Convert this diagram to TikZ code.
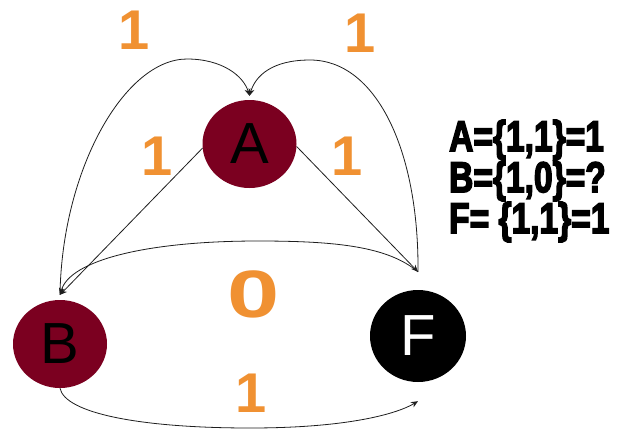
\documentclass[tikz,border=0pt]{standalone}
\usepackage{fontspec}
\setmainfont{Liberation Sans}
\newfontfamily\heavyfont{Liberation Sans Bold}[FakeBold=4]
\usetikzlibrary{shapes.geometric,arrows.meta}
\definecolor{nodered}{RGB}{123,0,32}
\definecolor{lblorange}{RGB}{240,145,50}
\definecolor{edgegray}{RGB}{30,30,30}
\begin{document}
\begin{tikzpicture}[x=1pt,y=-1pt,
  statenode/.style={ellipse,minimum width=94pt,minimum height=88pt,inner sep=0pt,font=\fontsize{58}{58}\selectfont},
  edge/.style={draw=edgegray,line width=0.8pt,-{Stealth[length=7pt,width=6pt]}},
  lbl/.style={text=lblorange,font=\bfseries\fontsize{56}{56}\selectfont,inner sep=0pt},
  eqn/.style={font=\heavyfont\fontsize{43}{43}\selectfont,anchor=west,inner sep=0pt,xscale=0.78}
]
\useasboundingbox (0,0) rectangle (630,432);
\fill[white] (0,0) rectangle (630,432);
% state nodes
\node[statenode,fill=nodered] (A) at (249.5,144) {A};
\node[statenode,fill=nodered] (B) at (60,344) {B};
\node[statenode,fill=black,text=white,minimum width=96pt,minimum height=92pt] (F) at (418,336) {F};
% connector end points
\coordinate (At) at ([yshift=4pt]A.north);
\coordinate (Bt) at ([yshift=5pt]B.north);
\coordinate (Ft) at ([yshift=18pt]F.north);
\coordinate (Fb) at ([yshift=-19pt]F.south);
\coordinate (pkL) at (187,59);
\coordinate (pkR) at (310,60);
\coordinate (pkM) at (258,241);
\coordinate (pkB) at (250,428);
% connectors
\draw[edge] (Bt) .. controls +(2,-126) and +(-62,0) .. (pkL) .. controls +(35,0) and +(-6,-20) .. (At);
\draw[edge] (Ft) .. controls +(1,-122) and +(66,0) .. (pkR) .. controls +(-38,0) and +(6,-20) .. (At);
\draw[edge] (A.185) -- (Bt);
\draw[edge] (A.-3) -- (Ft);
\draw[edge] (Ft) .. controls +(-30,-25) and +(80,0) .. (pkM) .. controls +(-110,0) and +(10,-35) .. (Bt);
\draw[edge] (B.south) .. controls +(5,25) and +(-110,0) .. (pkB) .. controls +(100,0) and +(-20,12) .. (Fb);
% labels
\node[lbl] (l1) at (134,30) {1};
\node[lbl] (l2) at (360,33) {1};
\node[lbl] (l3) at (157,156) {1};
\node[lbl] (l4) at (347,156) {1};
\node[lbl,xscale=1.4,font=\bfseries\fontsize{67}{67}\selectfont] (l0) at (254,294) {0};
\node[lbl] (l5) at (251,393) {1};
% equations
\node[eqn] (eqA) at (449,140) {A=\{1,1\}=1};
\node[eqn] (eqB) at (449,181) {B=\{1,0\}=?};
\node[eqn] (eqF) at (449,222) {F= \{1,1\}=1};
\end{tikzpicture}
\end{document}
